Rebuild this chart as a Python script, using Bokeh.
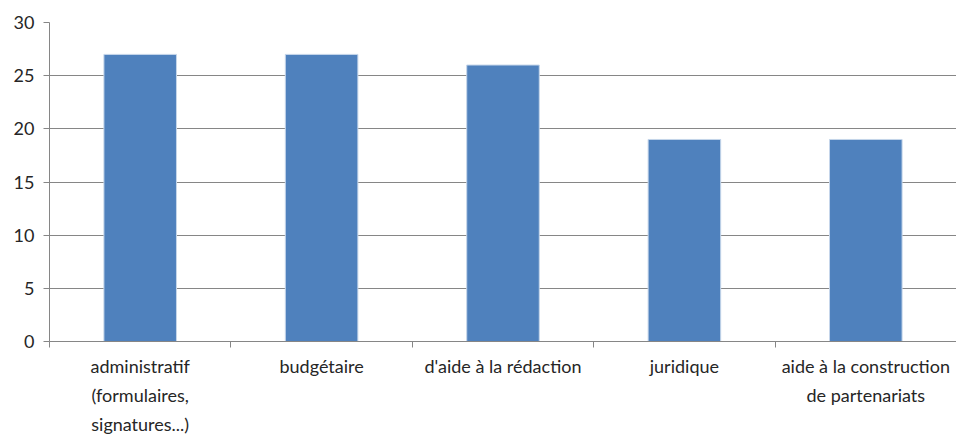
from bokeh.plotting import figure
from bokeh.models import Range1d, FixedTicker, SingleIntervalTicker, ColumnDataSource
from bokeh.embed import file_html
from bokeh.resources import INLINE

categories = ["administratif\n(formulaires,\nsignatures...)", "budgétaire",
              "d'aide à la rédaction", "juridique",
              "aide à la construction\nde partenariats"]
values = [27, 27, 26, 19, 19]

n = len(categories)
xs = [i + 0.5 for i in range(n)]
src = ColumnDataSource(dict(x=xs, top=values))

FONT = "Lato"
GRAY = "#868686"
TXT = "#262626"

p = figure(width=956, height=439, output_backend="svg", toolbar_location=None,
           x_range=Range1d(0, n), y_range=Range1d(0, 30),
           min_border_left=49, min_border_right=0, min_border_top=22, min_border_bottom=98)
p.outline_line_color = None
p.background_fill_color = "white"
p.border_fill_color = "white"

p.vbar(x="x", top="top", width=0.4, source=src, fill_color="#4F81BD",
       line_color="#C6D6EA", line_width=1)

# x axis
xa = p.xaxis[0]
xa.ticker = FixedTicker(ticks=xs, minor_ticks=list(range(n + 1)))
xa.major_label_overrides = {x: c for x, c in zip(xs, categories)}
xa.major_tick_line_color = None
xa.major_tick_in = 0
xa.major_tick_out = 0
xa.minor_tick_in = 0
xa.minor_tick_out = 6
xa.minor_tick_line_color = GRAY
xa.axis_line_color = GRAY
xa.axis_label_standoff = 0
xa.major_label_text_font = FONT
xa.major_label_text_font_size = "18px"
xa.major_label_text_color = TXT
xa.major_label_text_line_height = 1.32
xa.major_label_standoff = 7
xa.major_label_orientation = "horizontal"

# y axis
ya = p.yaxis[0]
ya.ticker = SingleIntervalTicker(interval=5, num_minor_ticks=0)
ya.axis_line_color = GRAY
ya.major_tick_line_color = GRAY
ya.major_tick_in = 0
ya.major_tick_out = 6
ya.minor_tick_line_color = None
ya.major_label_text_font = FONT
ya.major_label_text_font_size = "18px"
ya.major_label_text_color = TXT
ya.major_label_standoff = 9

p.xgrid.grid_line_color = None
p.ygrid.grid_line_color = GRAY
p.ygrid.grid_line_width = 1
p.ygrid.ticker = SingleIntervalTicker(interval=5, num_minor_ticks=0)

open("out.html", "w").write(file_html(p, INLINE))
